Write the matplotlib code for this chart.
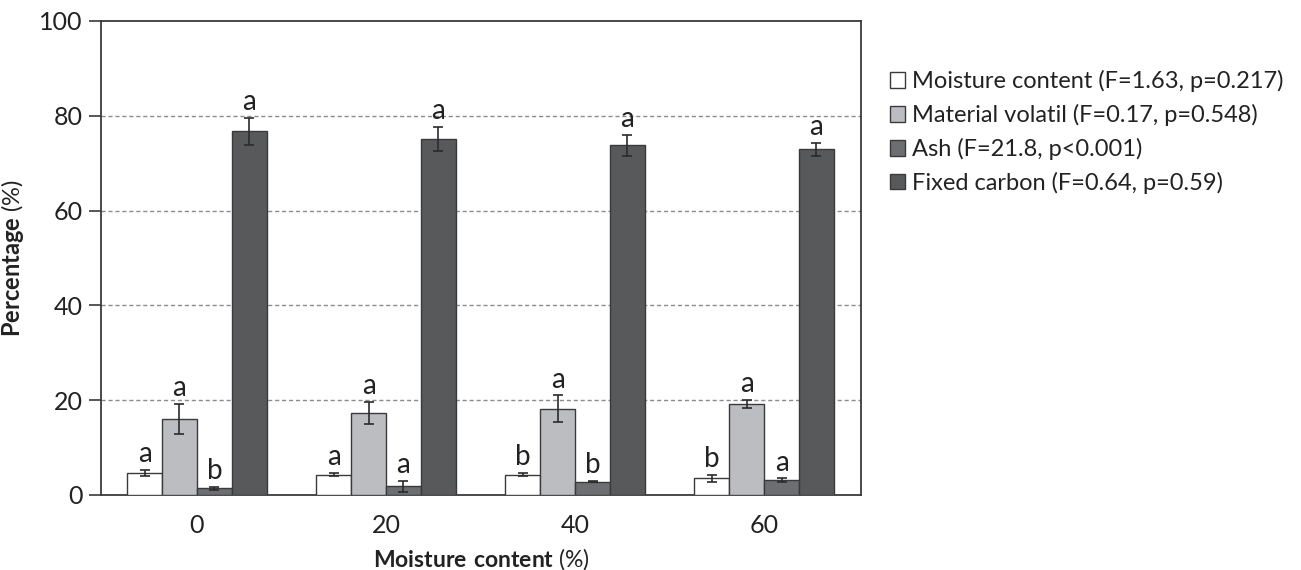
import matplotlib
matplotlib.use("Agg")
import matplotlib.pyplot as plt
import numpy as np
from matplotlib.patches import Patch

plt.rcParams["font.family"] = ["Lato", "DejaVu Sans"]
plt.rcParams["mathtext.fontset"] = "custom"
plt.rcParams["mathtext.bf"] = "Lato:bold"
plt.rcParams["mathtext.rm"] = "Lato"

groups = ["0", "20", "40", "60"]
series = [
    "Moisture content (F=1.63, p=0.217)",
    "Material volatil (F=0.17, p=0.548)",
    "Ash (F=21.8, p<0.001)",
    "Fixed carbon (F=0.64, p=0.59)",
]
moisture = [4.7, 4.3, 4.3, 3.5]
moisture_err = [0.6, 0.3, 0.3, 0.7]
volatile = [16.1, 17.3, 18.2, 19.2]
volatile_err = [3.2, 2.4, 2.8, 0.8]
ash = [1.4, 1.8, 2.8, 3.1]
ash_err = [0.3, 1.2, 0.1, 0.4]
fixed = [76.7, 75.1, 73.8, 72.9]
fixed_err = [2.8, 2.6, 2.2, 1.3]

letters = [
    ["a", "a", "b", "b"],
    ["a", "a", "a", "a"],
    ["b", "a", "b", "a"],
    ["a", "a", "a", "a"],
]

values = [moisture, volatile, ash, fixed]
errors = [moisture_err, volatile_err, ash_err, fixed_err]
colors = ["#ffffff", "#bcbdc0", "#6d6e71", "#58595b"]
edge = "#3a3a3c"

fig = plt.figure(figsize=(13.01, 5.70), dpi=100)
ax = fig.add_axes([0.0776, 0.1316, 0.5842, 0.8316])

x = np.arange(len(groups))
w = 0.185
offsets = [-1.5 * w, -0.5 * w, 0.5 * w, 1.5 * w]

for vals, errs, col, off, labs in zip(values, errors, colors, offsets, letters):
    ax.bar(x + off, vals, w, color=col, edgecolor=edge, linewidth=1.0, zorder=3)
    ax.errorbar(x + off, vals, yerr=errs, fmt="none", ecolor="#2b2b2b",
                elinewidth=1.2, capsize=3.5, capthick=1.2, zorder=4)
    for xi, v, e, lab in zip(x + off, vals, errs, labs):
        ax.annotate(lab, (xi, v + e), xytext=(0, 2), textcoords="offset points",
                    ha="center", va="bottom", fontsize=20, color="#222222")

ax.set_xlim(-0.508, 3.513)
ax.set_ylim(0, 100)
ax.set_xticks(x)
ax.set_xticklabels(groups)
ax.set_yticks([0, 20, 40, 60, 80, 100])
ax.tick_params(axis="x", length=0, pad=14, labelsize=18, colors="#222222")
ax.tick_params(axis="y", direction="out", length=9, width=1.2, pad=4,
               labelsize=18, colors="#222222", color="#3a3a3c")

for gy in [20, 40, 60, 80]:
    ax.axhline(gy, color="#8c8c8c", linestyle=(0, (3, 2)), linewidth=1.0, zorder=1)

for s in ax.spines.values():
    s.set_color("#3a3a3c")
    s.set_linewidth(1.3)

ax.set_ylabel(r"$\mathbf{Percentage}$ (%)", fontsize=17, color="#222222", labelpad=10)
ax.set_xlabel(r"$\mathbf{Moisture\ content}$ (%)", fontsize=16.5, color="#222222", labelpad=6)

handles = [Patch(facecolor=c, edgecolor=edge, linewidth=1.0) for c in colors]
fig.legend(handles, series, loc="upper left", bbox_to_anchor=(0.684, 0.877),
           frameon=False, fontsize=17, handlelength=0.65, handleheight=0.65,
           handletextpad=0.3, labelspacing=0.5, borderaxespad=0, borderpad=0,
           labelcolor="#222222")

fig.savefig("out.png", dpi=100)
